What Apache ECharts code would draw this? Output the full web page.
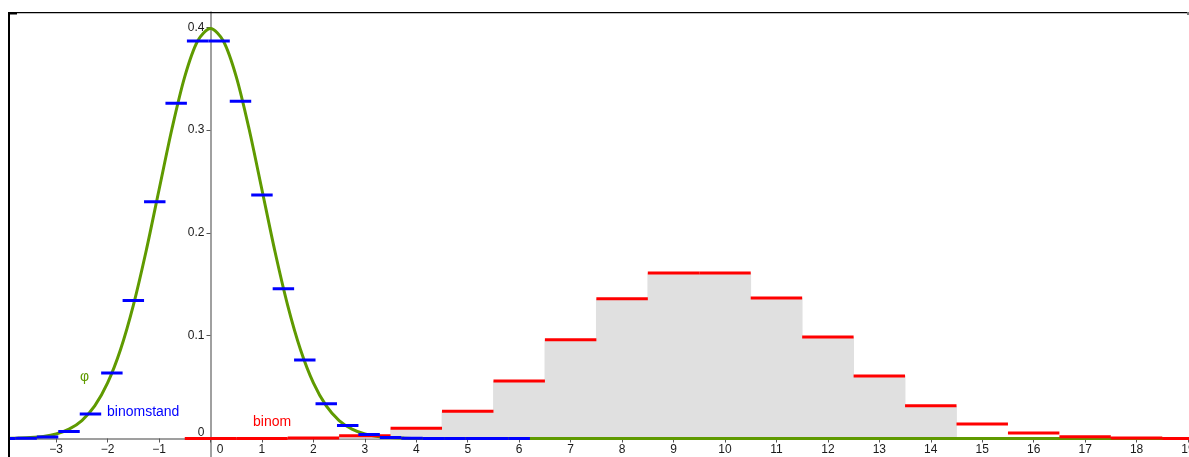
<!DOCTYPE html>
<html>
<head>
<meta charset="utf-8">
<script src="https://cdn.jsdelivr.net/npm/echarts@6/dist/echarts.min.js"></script>
<style>
html,body{margin:0;padding:0;background:#fff;}
#chart{width:1189px;height:457px;}
</style>
</head>
<body>
<div id="chart"></div>
<script>
// ---- data ----
// binomial probabilities (red steps), k = 0..24
const binomK = [0,1,2,3,4,5,6,7,8,9,10,11,12,13,14,15,16,17,18,19,20,21,22,23,24];
const binomP = [0.0000,0.0001,0.0006,0.0028,0.0099,0.0265,0.0560,0.0960,0.1360,0.1611,0.1611,0.1367,0.0987,0.0608,0.0318,0.0141,0.0053,0.0017,0.0004,0.0001,0,0,0,0,0];
// shaded range of k (grey area)
const shadedFrom = 3;
const shadedTo = 14;
// standardised binomial (blue steps): centres and heights
const standX = [-4.000,-3.583,-3.167,-2.750,-2.333,-1.917,-1.500,-1.083,-0.667,-0.250,0.167,0.583,1.000,1.417,1.833,2.250,2.667,3.083,3.500,3.917,4.333,4.750,5.167,5.583,6.000];
const standY = [0.0000,0.0002,0.0014,0.0068,0.0238,0.0636,0.1343,0.2303,0.3262,0.3866,0.3866,0.3281,0.2369,0.1458,0.0764,0.0339,0.0127,0.0040,0.0010,0.0002,0,0,0,0,0];
// normal density curve φ (green)
const phiX = [-4.0,-3.75,-3.5,-3.25,-3.0,-2.75,-2.5,-2.25,-2.0,-1.75,-1.5,-1.25,-1.0,-0.75,-0.5,-0.25,0,0.25,0.5,0.75,1.0,1.25,1.5,1.75,2.0,2.25,2.5,2.75,3.0,3.25,3.5,3.75,4.0,19.2];
const phiY = [0.0001,0.0004,0.0009,0.0020,0.0044,0.0091,0.0175,0.0317,0.0540,0.0863,0.1295,0.1826,0.2420,0.3011,0.3521,0.3867,0.3989,0.3867,0.3521,0.3011,0.2420,0.1826,0.1295,0.0863,0.0540,0.0317,0.0175,0.0091,0.0044,0.0020,0.0009,0.0004,0.0001,0];
// axis ranges / ticks
const xMin = -4, xMax = 19.05, xStep = 1;
const yMin = -0.1, yMax = 0.4149, yStep = 0.1;
const names = {phi: 'φ', stand: 'binomstand', binom: 'binom'};

const GREEN = '#5f9a00', BLUE = '#0000ff', RED = '#ff0000', FILL = '#e0e0e0';
const FONT = '"Liberation Sans", Arial, sans-serif';

// layout (pixels)
const G = {left: 4.7, top: 12, width: 1185.9, height: 529.3};
const zeroX = G.left + (0 - xMin) / (xMax - xMin) * G.width;
const zeroY = G.top + (yMax - 0) / (yMax - yMin) * G.height;

const chart = echarts.init(document.getElementById('chart'), null, {renderer: 'canvas'});

function segItem(color) {
  return function (params, api) {
    const x = api.value(0), y = api.value(1), h = api.value(2);
    const a = api.coord([x - h, y]);
    const b = api.coord([x + h, y]);
    return {type: 'line', shape: {x1: a[0], y1: a[1], x2: b[0], y2: b[1]},
            style: {stroke: color, lineWidth: 3, lineCap: 'butt'}};
  };
}

const redData = binomK.map((k, i) => [k, binomP[i], 0.5]);
const standHalf = (standX[1] - standX[0]) / 2;
const blueData = standX.map((x, i) => [x, standY[i], standHalf]);
const fillData = binomK.map((k, i) => [k, binomP[i]]).filter(d => d[0] >= shadedFrom && d[0] <= shadedTo);
const phiData = phiX.map((x, i) => [x, phiY[i]]);

function isMult(v, step) { return Math.abs(v / step - Math.round(v / step)) < 1e-6; }

const option = {
  animation: false,
  grid: {left: G.left, top: G.top, width: G.width, height: G.height, containLabel: false, outerBoundsMode: 'none'},
  xAxis: {
    type: 'value', min: xMin, max: xMax, interval: xStep,
    position: 'bottom', offset: -(G.top + G.height - zeroY),
    axisLine: {onZero: false, lineStyle: {color: '#808080', width: 1.5}},
    axisTick: {show: true, length: 4, lineStyle: {color: '#555', width: 1}},
    splitLine: {show: false},
    axisLabel: {
      margin: 5, color: '#1a1a1a', fontSize: 12, fontFamily: FONT,
      showMaxLabel: false, showMinLabel: false, hideOverlap: false,
      formatter: function (v) {
        if (!isMult(v, xStep)) return '';
        const r = Math.round(v);
        if (r === 0) return '{z|0}';
        return (r < 0 ? '\u2212' + (-r) : String(r));
      },
      rich: {z: {padding: [0, 0, 0, 19], fontSize: 12, fontFamily: FONT, color: '#1a1a1a'}}
    }
  },
  yAxis: {
    type: 'value', min: yMin, max: yMax, interval: yStep,
    position: 'left', offset: -(zeroX - G.left),
    axisLine: {onZero: false, lineStyle: {color: '#808080', width: 1.5}},
    axisTick: {show: true, length: 4, lineStyle: {color: '#555', width: 1}},
    splitLine: {show: false},
    axisLabel: {
      margin: 6, color: '#1a1a1a', fontSize: 12, fontFamily: FONT,
      showMaxLabel: false, showMinLabel: false, hideOverlap: false,
      formatter: function (v) {
        if (!isMult(v, yStep)) return '';
        const r = Math.round(v * 10) / 10;
        if (r < 0) return '';
        if (r === 0) return '{z|0}';
        return r.toFixed(1);
      },
      rich: {z: {padding: [0, 0, 12, 0], fontSize: 12, fontFamily: FONT, color: '#1a1a1a'}}
    }
  },
  series: [
    {
      name: 'shade', type: 'custom', silent: true, clip: true, z: 1,
      data: fillData, encode: {x: 0, y: 1},
      renderItem: function (params, api) {
        const k = api.value(0), p = api.value(1);
        const a = api.coord([k - 0.5, p]);
        const b = api.coord([k + 0.5, 0]);
        return {type: 'rect', shape: {x: a[0] - 0.4, y: a[1], width: b[0] - a[0] + 0.8, height: b[1] - a[1]},
                style: {fill: FILL}};
      }
    },
    {
      name: names.phi, type: 'line', data: phiData, smooth: 0.3, showSymbol: false, silent: true,
      clip: true, z: 2, lineStyle: {color: GREEN, width: 3}
    },
    {
      name: names.binom, type: 'custom', silent: true, clip: true, z: 3,
      data: redData, encode: {x: 0, y: 1}, renderItem: segItem(RED)
    },
    {
      name: names.stand, type: 'custom', silent: true, clip: true, z: 4,
      data: blueData, encode: {x: 0, y: 1}, renderItem: segItem(BLUE)
    }
  ],
  graphic: [
    {type: 'rect', z: 100, shape: {x: 0, y: 0, width: 8, height: 457}, style: {fill: '#fff'}},
    {type: 'rect', z: 101, shape: {x: 8, y: 12, width: 2, height: 445}, style: {fill: '#000'}},
    {type: 'rect', z: 101, shape: {x: 8, y: 12, width: 1180, height: 1.3}, style: {fill: '#000'}},
    {type: 'rect', z: 101, shape: {x: 8, y: 12, width: 9, height: 2.5}, style: {fill: '#000'}},
    {type: 'rect', z: 101, shape: {x: 1187, y: 12, width: 2, height: 3}, style: {fill: '#777'}},
    {type: 'text', z: 102, left: 80, top: 370, style: {text: names.phi, fill: GREEN, font: '14px ' + FONT}},
    {type: 'text', z: 102, left: 107, top: 405, style: {text: names.stand, fill: BLUE, font: '14px ' + FONT}},
    {type: 'text', z: 102, left: 253, top: 415, style: {text: names.binom, fill: RED, font: '14px ' + FONT}}
  ]
};
chart.setOption(option);
</script>
</body>
</html>
